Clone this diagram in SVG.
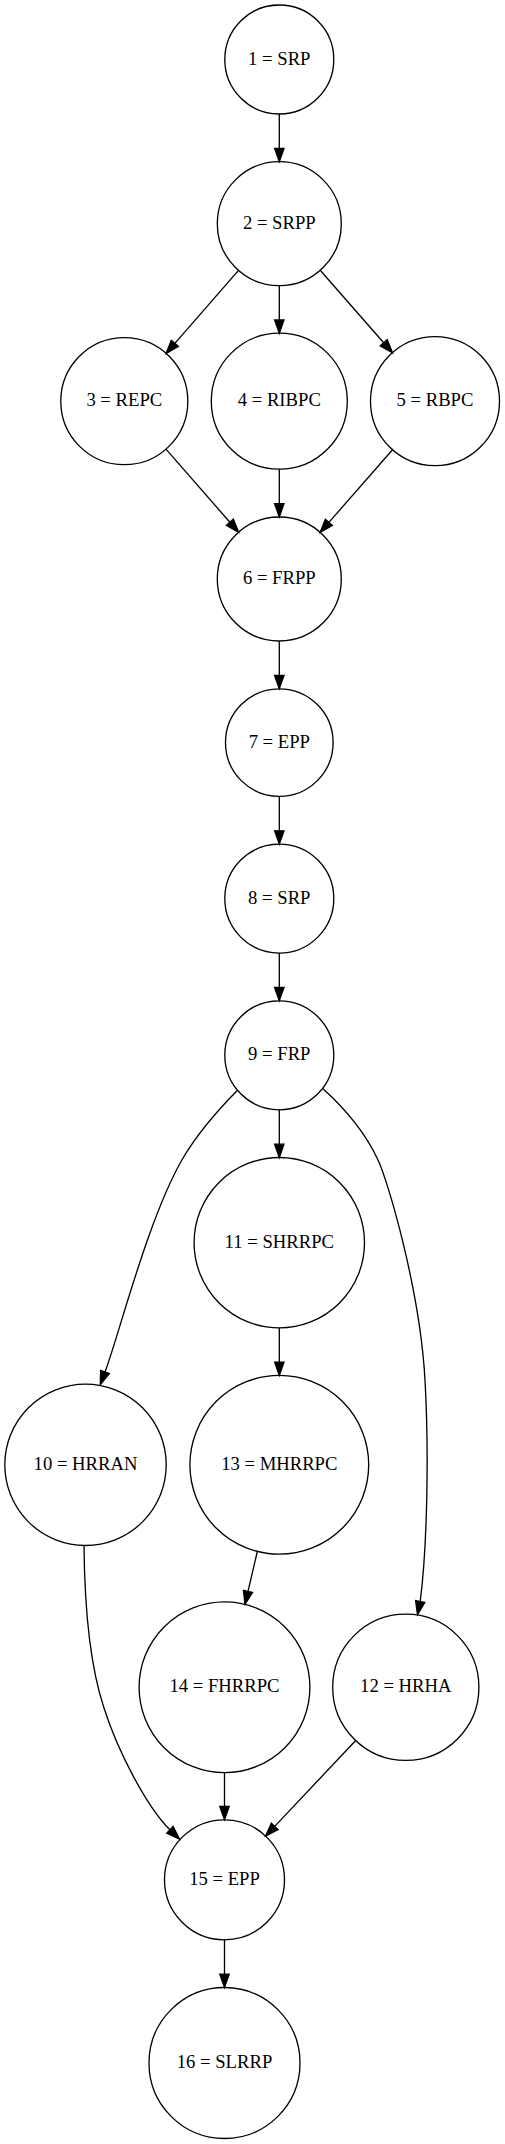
<svg xmlns="http://www.w3.org/2000/svg" width="505" height="2144" viewBox="0 0 505 2144">
<style>
.node circle{fill:none;stroke:#000;stroke-width:1.33}
.node text{font-family:"Liberation Serif","Times New Roman",serif;font-size:18.67px;fill:#000;text-anchor:middle}
.edge{fill:none;stroke:#000;stroke-width:1.33}
.arrow{fill:#000;stroke:#000;stroke-width:1.33}
</style>
<rect x="0" y="0" width="505" height="2144" fill="#fff"/>
<g id="connectors">
<path class="edge" d="M279.3,114 L279.3,148.4"/><polygon class="arrow" points="274.6,148.4 279.3,161.7 284,148.4"/>
<path class="edge" d="M238.5,270.4 L174.85,343.4"/><polygon class="arrow" points="171.3,340.3 166.1,353.4 178.4,346.5"/>
<path class="edge" d="M279.3,285.7 L279.3,319.9"/><polygon class="arrow" points="274.6,319.9 279.3,333.2 284,319.9"/>
<path class="edge" d="M320.2,270.3 L383.7,342.7"/><polygon class="arrow" points="380.2,345.8 392.5,352.7 387.2,339.6"/>
<path class="edge" d="M166,449.1 L229.9,522.3"/><polygon class="arrow" points="226.4,525.4 238.6,532.3 233.4,519.2"/>
<path class="edge" d="M279.3,469.2 L279.3,503.7"/><polygon class="arrow" points="274.6,503.7 279.3,517 284,503.7"/>
<path class="edge" d="M392.5,449.7 L328.9,522.4"/><polygon class="arrow" points="325.4,519.3 320.1,532.4 332.4,525.5"/>
<path class="edge" d="M279.3,641 L279.3,675.5"/><polygon class="arrow" points="274.6,675.5 279.3,688.8 284,675.5"/>
<path class="edge" d="M279.3,796.4 L279.3,830.8"/><polygon class="arrow" points="274.6,830.8 279.3,844.1 284,830.8"/>
<path class="edge" d="M279.3,953.1 L279.3,987.5"/><polygon class="arrow" points="274.6,987.5 279.3,1000.8 284,987.5"/>
<path class="edge" d="M279.3,1109.8 L279.3,1144.2"/><polygon class="arrow" points="274.6,1144.2 279.3,1157.5 284,1144.2"/>
<path class="edge" d="M237.5,1090.3 C218,1110 198,1133 183,1158 C148,1218 119,1335 105,1372"/><polygon class="arrow" points="100.6,1370.4 100.3,1384.5 109.4,1373.6"/>
<path class="edge" d="M322.7,1088.6 C342,1106 364,1130 378,1160 C388,1181 420,1290 425,1380 C428.9,1450 427.5,1545 420.2,1601.5"/><polygon class="arrow" points="415.6,1600.6 417.5,1614.5 424.8,1602.4"/>
<path class="edge" d="M279.3,1327.9 L279.3,1362.1"/><polygon class="arrow" points="274.6,1362.1 279.3,1375.4 284,1362.1"/>
<path class="edge" d="M257.3,1551.5 L248,1591.4"/><polygon class="arrow" points="243.45,1590.3 245,1604.4 252.55,1592.5"/>
<path class="edge" d="M84,1545.5 C84.5,1600 88,1660 104,1708 C118,1752 147,1807 169.9,1829.8"/><polygon class="arrow" points="166.7,1833.2 179.5,1839 173.1,1826.4"/>
<path class="edge" d="M224.5,1772.7 L224.5,1806.5"/><polygon class="arrow" points="219.8,1806.5 224.5,1819.8 229.2,1806.5"/>
<path class="edge" d="M355.7,1740.5 L274.7,1826.4"/><polygon class="arrow" points="271.3,1823.2 265.6,1836.1 278.1,1829.6"/>
<path class="edge" d="M224.5,1939.8 L224.5,1974.2"/><polygon class="arrow" points="219.8,1974.2 224.5,1987.5 229.2,1974.2"/>
</g>
<g id="node1" class="node"><circle cx="279.3" cy="59.5" r="54.5"/><text x="279.3" y="64.5">1 = SRP</text></g>
<g id="node2" class="node"><circle cx="279.3" cy="223.7" r="62"/><text x="279.3" y="228.7">2 = SRPP</text></g>
<g id="node3" class="node"><circle cx="124.3" cy="401.2" r="63.5"/><text x="124.3" y="406.2">3 = REPC</text></g>
<g id="node4" class="node"><circle cx="279.3" cy="401.2" r="68"/><text x="279.3" y="406.2">4 = RIBPC</text></g>
<g id="node5" class="node"><circle cx="435" cy="401.2" r="64.5"/><text x="435" y="406.2">5 = RBPC</text></g>
<g id="node6" class="node"><circle cx="279.3" cy="579" r="62"/><text x="279.3" y="584">6 = FRPP</text></g>
<g id="node7" class="node"><circle cx="279.3" cy="742.6" r="53.8"/><text x="279.3" y="747.6">7 = EPP</text></g>
<g id="node8" class="node"><circle cx="279.3" cy="898.6" r="54.5"/><text x="279.3" y="903.6">8 = SRP</text></g>
<g id="node9" class="node"><circle cx="279.3" cy="1055.3" r="54.5"/><text x="279.3" y="1060.3">9 = FRP</text></g>
<g id="node11" class="node"><circle cx="279.3" cy="1242.7" r="85.2"/><text x="279.3" y="1247.7">11 = SHRRPC</text></g>
<g id="node10" class="node"><circle cx="85.5" cy="1464.8" r="80.7"/><text x="85.5" y="1469.8">10 = HRRAN</text></g>
<g id="node13" class="node"><circle cx="279.3" cy="1464.8" r="89.4"/><text x="279.3" y="1469.8">13 = MHRRPC</text></g>
<g id="node14" class="node"><circle cx="224.5" cy="1687.3" r="85.4"/><text x="224.5" y="1692.3">14 = FHRRPC</text></g>
<g id="node12" class="node"><circle cx="405.8" cy="1687.3" r="73.1"/><text x="405.8" y="1692.3">12 = HRHA</text></g>
<g id="node15" class="node"><circle cx="224.5" cy="1879.8" r="60"/><text x="224.5" y="1884.8">15 = EPP</text></g>
<g id="node16" class="node"><circle cx="224.5" cy="2063" r="75.5"/><text x="224.5" y="2068">16 = SLRRP</text></g>
</svg>
